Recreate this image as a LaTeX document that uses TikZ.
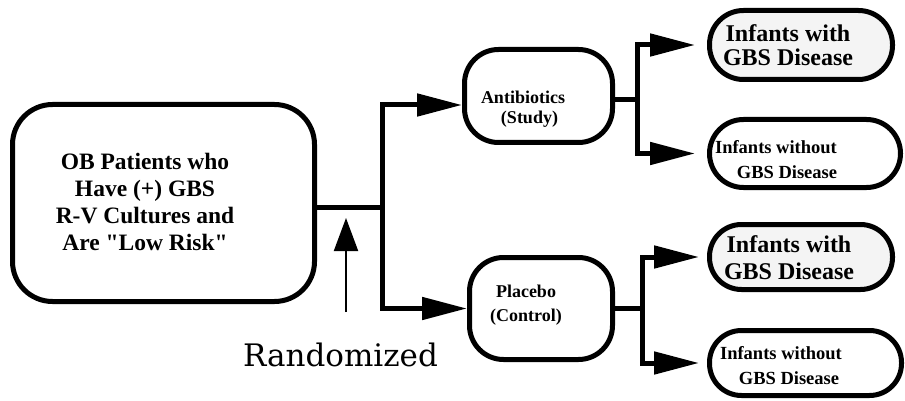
\documentclass[tikz,border=0pt]{standalone}
\usepackage{fontspec}
\setmainfont{Liberation Serif}
\newfontfamily\labfont{Liberation Serif}
\newfontfamily\randfont{DejaVu Serif}
\usetikzlibrary{arrows.meta}
\definecolor{lightfill}{HTML}{F4F4F4}
\begin{document}
\begin{tikzpicture}[x=1pt,y=-1pt,
  box/.style={draw, line width=5pt, inner sep=0pt},
  lbl/.style={align=center, inner sep=0pt},
  conn/.style={line width=5pt},
  arr/.style={line width=5pt, -{Triangle[length=45pt,width=22pt]}},
  thinarr/.style={line width=2pt, -{Triangle[length=33pt,width=24pt]}}]
\useasboundingbox (0,0) rectangle (905,401);
% boxes
\node[box, rounded corners=40pt, minimum width=302pt, minimum height=197pt] (L) at (163.5,203) {};
\node[box, rounded corners=34pt, minimum width=148pt, minimum height=93pt] (A) at (538.5,96) {};
\node[box, rounded corners=34pt, minimum width=143pt, minimum height=102pt] (P) at (541,308.5) {};
\node[box, rounded corners=34pt, fill=lightfill, minimum width=183pt, minimum height=69pt] (R1) at (801,45) {};
\node[box, rounded corners=34pt, minimum width=191pt, minimum height=68pt] (R2) at (805,153.5) {};
\node[box, rounded corners=32pt, fill=lightfill, minimum width=183pt, minimum height=65pt] (R3) at (801,257) {};
\node[box, rounded corners=32pt, minimum width=192pt, minimum height=65pt] (R4) at (805.5,363) {};
% labels
\node[lbl, font=\labfont\bfseries\fontsize{23.5}{26.7}\selectfont] (Lt) at (145,202)
  {OB Patients who\\Have (+) GBS\\R-V Cultures and\\Are "Low Risk"};
\node[lbl, font=\labfont\bfseries\fontsize{18}{19.5}\selectfont] (At) at (523,109)
  {Antibiotics\\\hspace*{13pt}(Study)};
\node[lbl, font=\labfont\bfseries\fontsize{18}{24}\selectfont] (Pt) at (526,305)
  {Placebo\\(Control)};
\node[lbl, font=\labfont\bfseries\fontsize{24}{24}\selectfont] (R1t) at (788,45)
  {Infants with\\GBS Disease};
\node[lbl, font=\labfont\bfseries\fontsize{18.5}{25}\selectfont] (R2t) at (776,160)
  {Infants without\\\hspace*{22pt}GBS Disease};
\node[lbl, font=\labfont\bfseries\fontsize{24}{27}\selectfont] (R3t) at (789,258)
  {Infants with\\GBS Disease};
\node[lbl, font=\labfont\bfseries\fontsize{18.5}{25}\selectfont] (R4t) at (781,366)
  {Infants without\\\hspace*{16pt}GBS Disease};
\node[anchor=base, inner sep=0pt, font=\randfont\fontsize{31}{31}\selectfont] (Rand) at (340.5,366) {Randomized};
% junctions
\coordinate (J1) at (382,207);
\coordinate (J2) at (637,100);
\coordinate (J3) at (642,308.5);
\coordinate (Rb) at (346,312);
\coordinate (Rt) at (346,218);
% connectors
\draw[conn] (L.east |- J1) -- (J1);
\draw[arr] (J1) |- ([yshift=-9pt]A.west);
\draw[arr] (J1) |- (P.west);
\draw[conn] (A.east |- J2) -- (J2);
\draw[arr, shorten >=12pt] (J2) |- (R1.west);
\draw[arr, shorten >=12pt] (J2) |- (R2.west);
\draw[conn] (P.east) -- (J3);
\draw[arr, shorten >=8pt] (J3) |- (R3.west);
\draw[arr, shorten >=8pt] (J3) |- (R4.west);
\draw[thinarr] (Rb) -- (Rt);
\end{tikzpicture}
\end{document}
